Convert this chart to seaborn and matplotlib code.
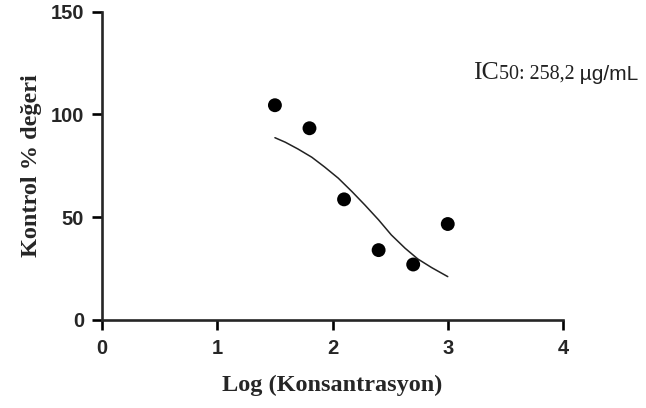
import numpy as np
import pandas as pd
import seaborn as sns
import matplotlib.pyplot as plt

# olculen noktalar
logKons = [1.5, 1.8, 2.1, 2.4, 2.7, 3.0]
kontrol = [104.5, 93.3, 58.7, 34.0, 27.0, 46.7]

# egri
egriX = [1.50, 1.59, 1.70, 1.82, 1.93, 2.05, 2.17, 2.28, 2.40, 2.51, 2.63, 2.74, 2.86, 3.00]
egriY = [88.7, 86.5, 83.2, 79.2, 74.5, 69.0, 62.4, 56.0, 48.7, 41.4, 34.9, 29.7, 25.5, 21.1]

xTicks = [0, 1, 2, 3, 4]
yTicks = [0, 50, 100, 150]

dfPts = pd.DataFrame({"x": logKons, "y": kontrol})
dfFit = pd.DataFrame({"x": egriX, "y": egriY})

sns.set_style("ticks")

fig = plt.figure(figsize=(6.46, 4.08), dpi=100)
ax = fig.add_axes([0.158, 0.2157, 0.7135, 0.7556])

sns.lineplot(data=dfFit, x="x", y="y", ax=ax, color="#222222",
             linewidth=1.1, estimator=None, sort=True)
sns.scatterplot(data=dfPts, x="x", y="y", ax=ax, color="black",
                s=100, edgecolor="none", zorder=3, clip_on=False)

ax.set_xlim(0, 4)
ax.set_ylim(0, 150)
ax.set_xticks(xTicks)
ax.set_yticks(yTicks)
sns.despine(ax=ax)
for sp in ["left", "bottom"]:
    ax.spines[sp].set_linewidth(1.9)
ax.tick_params(axis="both", width=1.9, length=7, color="black")
ax.tick_params(axis="x", pad=7)
ax.tick_params(axis="y", pad=6)
for lbl in ax.get_xticklabels() + ax.get_yticklabels():
    lbl.set_family("Liberation Sans")
    lbl.set_fontweight("bold")
    lbl.set_fontsize(14.5)

ax.set_xlabel("Log (Konsantrasyon)", family="Liberation Serif",
              fontweight="bold", fontsize=17.5, labelpad=12)
ax.set_ylabel("Kontrol % değeri", family="Liberation Serif",
              fontweight="bold", fontsize=17.5, labelpad=6)

# IC50 yazisi
t1 = fig.text(473 / 646, 1 - 79 / 408, "IC", family="Liberation Serif",
              fontsize=18.5, color="#222222", va="baseline")
t2 = ax.annotate("50: 258,2", xy=(1, 0), xycoords=t1, va="bottom",
                 family="Liberation Serif", fontsize=14.4, color="#222222",
                 annotation_clip=False)
t3 = ax.annotate(" µg/mL", xy=(1, 0), xycoords=t2, va="bottom",
                 family="Liberation Sans", fontsize=15, color="#222222",
                 annotation_clip=False)

plt.savefig("out.png", dpi=100)
plt.close()
